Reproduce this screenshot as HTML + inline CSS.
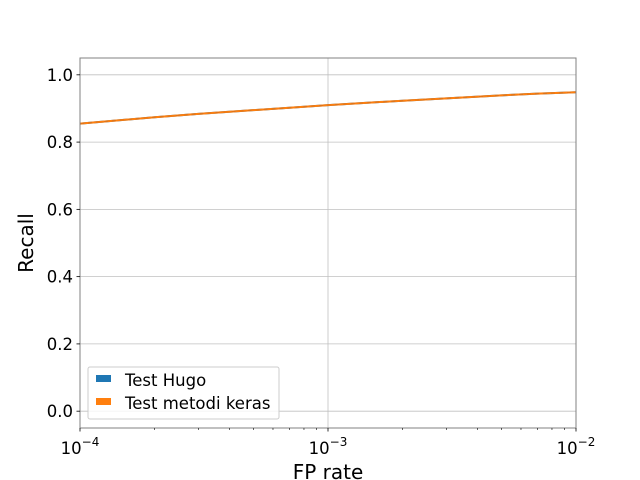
<!DOCTYPE html>
<html><head><meta charset="utf-8"><style>body{margin:0;background:#fff}svg{display:block;font-family:"DejaVu Sans","Liberation Sans",sans-serif}</style></head>
<body>
<svg id="chart" width="640" height="480" viewBox="0 0 640 480">
<g id="grid"></g>
<g id="series"></g>
<rect x="80" y="58" width="496" height="370" fill="none" stroke="#808080" stroke-width="1"/>
<g id="axes"></g>
<text x="328" y="479" text-anchor="middle" font-size="20">FP rate</text>
<text transform="translate(33,243) rotate(-90)" text-anchor="middle" font-size="20">Recall</text>
<g>
<rect x="88" y="367" width="191" height="52" rx="2" fill="#fff" fill-opacity="0.8" stroke="#ccc"/>
<rect x="96" y="375" width="15" height="7" fill="#1f77b4"/>
<text x="125" y="386" font-size="16.5">Test Hugo</text>
<rect x="96" y="398" width="15" height="7" fill="#ff7f0e"/>
<text x="125" y="409" font-size="16.5">Test metodi keras</text>
</g>
</svg>
<script>
const xValues=[1e-4,2e-4,3e-4,5e-4,7e-4,1e-3,2e-3,3e-3,5e-3,7e-3,1e-2];
const hugoValues=[0.855,0.874,0.884,0.895,0.902,0.910,0.923,0.930,0.939,0.944,0.948];
const kerasValues=[0.855,0.874,0.884,0.895,0.902,0.910,0.923,0.930,0.939,0.944,0.948];
const yTicks=[0,0.2,0.4,0.6,0.8,1.0];
const yTickLabels=["0.0","0.2","0.4","0.6","0.8","1.0"];
const xTicks=[-4,-3,-2];
const NS="http://www.w3.org/2000/svg";
const L=80,R=576,T=58,B=428,YMIN=-0.05,YMAX=1.05;
const sx=v=>L+(Math.log10(v)+4)/2*(R-L);
const sy=v=>B-(v-YMIN)/(YMAX-YMIN)*(B-T);
function mk(tag,attrs,parent){const e=document.createElementNS(NS,tag);for(const k in attrs)e.setAttribute(k,attrs[k]);parent.appendChild(e);return e;}
const grid=document.getElementById('grid'),axes=document.getElementById('axes'),series=document.getElementById('series');
yTicks.forEach((t,i)=>{const y=sy(t);
 const g=mk('line',{x1:L,x2:R,y1:y,y2:y,stroke:'#c0c0c0','stroke-width':0.8},grid);
 
 
 const tk=mk('line',{x1:L-3.5,x2:L,y1:y,y2:y,stroke:'#000','stroke-width':0.8},axes);
 
 
 const tx=mk('text',{x:L-7,y:y+6,'text-anchor':'end','font-size':16.5},axes);
 
 
 tx.textContent=yTickLabels[i];
});
xTicks.forEach(p=>{const x=sx(Math.pow(10,p));
 const g=mk('line',{x1:x,x2:x,y1:T,y2:B,stroke:'#c0c0c0','stroke-width':0.8},grid);
 
 
 const tk=mk('line',{x1:x,x2:x,y1:B,y2:B+3.5,stroke:'#000','stroke-width':0.8},axes);
 
 
 const tx=mk('text',{x:x,y:B+26,'text-anchor':'middle','font-size':16.5},axes);
 
 
 tx.textContent='10';
 const sp=mk('tspan',{dy:-8,'font-size':12},tx);sp.textContent='\u2212'+(-p);
 if(p<-2){for(let m=2;m<10;m++){const xm=sx(m*Math.pow(10,p));
  const mt=mk('line',{x1:xm,x2:xm,y1:B,y2:B+2,stroke:'#000','stroke-width':0.6},axes);
  
  }}
});
function path(vals){return vals.map((v,i)=>(i?'L':'M')+sx(xValues[i]).toFixed(2)+','+sy(v).toFixed(2)).join(' ');}
const p1=mk('path',{d:path(hugoValues),fill:'none',stroke:'#1f77b4','stroke-width':2},series);


const p2=mk('path',{d:path(kerasValues),fill:'none',stroke:'#ff7f0e','stroke-width':2},series);


const p3=mk('path',{d:path(kerasValues),fill:'none',stroke:'#a06030','stroke-width':0.6,'stroke-dasharray':'4 4','stroke-opacity':0.5},series);


</script>
</body></html>
